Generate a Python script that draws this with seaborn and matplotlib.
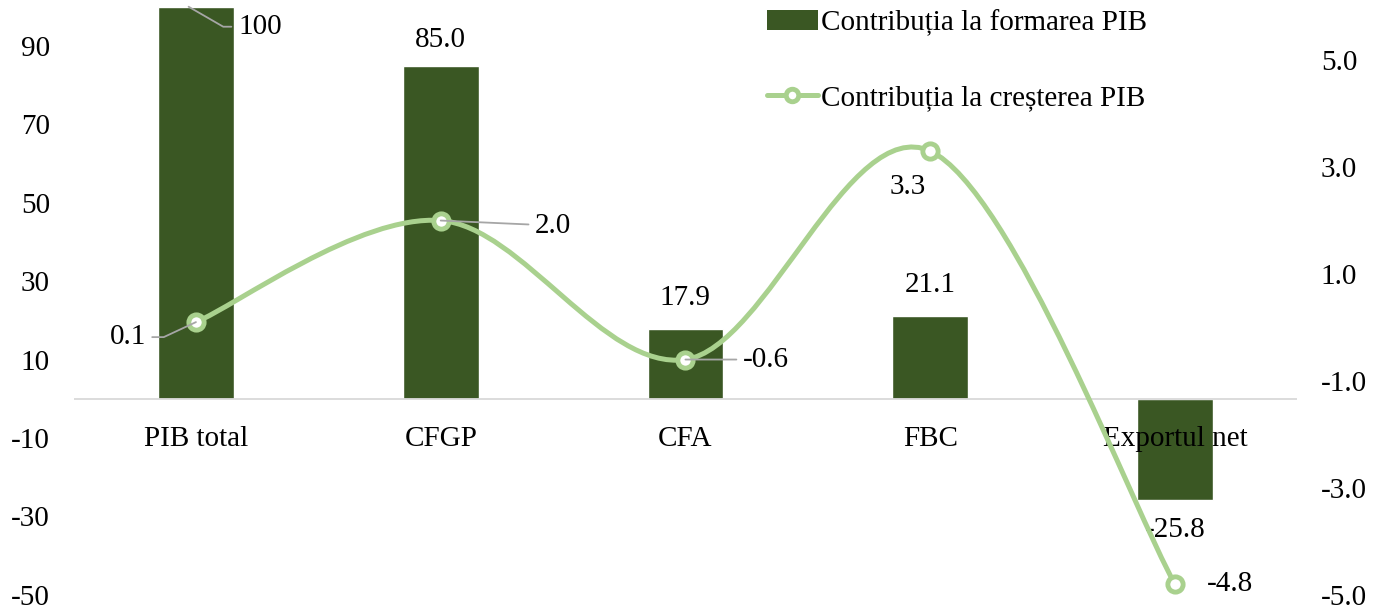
import numpy as np
import pandas as pd
import matplotlib
matplotlib.use('Agg')
import matplotlib.pyplot as plt
from matplotlib.path import Path
from matplotlib.patches import PathPatch, Patch
from matplotlib.lines import Line2D
import seaborn as sns

# Data
categories = ['PIB total', 'CFGP', 'CFA', 'FBC', 'Exportul net']
formare = [100, 85.0, 17.9, 21.1, -25.8]
formare_labels = ['100', '85.0', '17.9', '21.1', '-25.8']
crestere = [0.1, 2.0, -0.6, 3.3, -4.8]
crestere_labels = ['0.1', '2.0', '-0.6', '3.3', '-4.8']

bar_color = '#3A5723'
line_color = '#A9D18E'
leader_color = '#A6A6A6'

sns.set_style('white')
plt.rcParams['font.family'] = ['Liberation Serif', 'DejaVu Serif']
plt.rcParams['axes.unicode_minus'] = False
plt.rcParams['text.color'] = 'black'
plt.rcParams['ytick.color'] = 'black'
plt.rcParams['xtick.color'] = 'black'
fs = 21

fig = plt.figure(figsize=(13.75, 6.1), dpi=100)
ax = fig.add_axes([0.0535, 0.025, 0.89, 0.964])

df = pd.DataFrame({'cat': categories, 'val': formare})
sns.barplot(data=df, x='cat', y='val', color=bar_color, saturation=1, width=0.31, ax=ax)
ax.set_xlim(-0.5, 4.5)
ax.set_ylim(-50, 100)
ax.set_yticks(range(-50, 100, 20))
ax.set_xlabel('')
ax.set_ylabel('')
ax.set_xticks([])
ax.axhline(0, color='#D9D9D9', lw=1.3, zorder=1)
ax.tick_params(axis='y', length=0, pad=17, labelsize=fs)
for s in ax.spines.values():
    s.set_visible(False)

# category labels sit just under the zero line
for i, c in enumerate(categories):
    ax.annotate(c, (i, 0), xytext=(0, -40), textcoords='offset pixels',
                ha='center', va='center', fontsize=fs, zorder=5)

# bar value labels
bar_offsets = [None, (0, 26), (0, 31), (0, 31), (0, -30)]
for i, (v, lab) in enumerate(zip(formare, formare_labels)):
    if i == 0:
        ax.annotate(lab, (i - 0.03, v), xytext=(72, -20), textcoords='offset pixels',
                    ha='center', va='center', fontsize=fs,
                    arrowprops=dict(arrowstyle='-', color=leader_color, lw=1.3,
                                    connectionstyle='angle,angleA=0,angleB=-30,rad=0',
                                    shrinkA=3, shrinkB=0))
    else:
        ax.annotate(lab, (i, v), xytext=bar_offsets[i], textcoords='offset pixels',
                    ha='center', va='center', fontsize=fs)

# secondary axis with smoothed line
ax2 = ax.twinx()
ax2.set_ylim(-5, 6)
ax2.set_yticks(np.arange(-5, 6, 2))
ax2.set_yticklabels([f'{t:.1f}' for t in np.arange(-5, 6, 2)])
ax2.tick_params(axis='y', length=0, pad=17, labelsize=fs)
for s in ax2.spines.values():
    s.set_visible(False)

pts = np.column_stack([np.arange(len(crestere)), crestere]).astype(float)
ext = np.vstack([pts[0], pts, pts[-1]])
verts = [tuple(pts[0])]
codes = [Path.MOVETO]
for i in range(len(pts) - 1):
    p0, p1, p2, p3 = ext[i], ext[i + 1], ext[i + 2], ext[i + 3]
    c1 = p1 + (p2 - p0) / 6
    c2 = p2 - (p3 - p1) / 6
    verts += [tuple(c1), tuple(c2), tuple(p2)]
    codes += [Path.CURVE4] * 3
ax2.add_patch(PathPatch(Path(verts, codes), fill=False, edgecolor=line_color,
                        lw=3.6, capstyle='round', zorder=3))
ax2.plot(pts[:, 0], pts[:, 1], 'o', ms=11, mfc='white', mec=line_color, mew=3.5,
         linestyle='none', zorder=4)

line_offsets = [(-68, -15), (112, -5), (80, 0), (-22, -36), (55, 0)]
leaders = [True, True, True, False, False]
for i, (v, lab) in enumerate(zip(crestere, crestere_labels)):
    kw = {}
    if leaders[i]:
        kw['arrowprops'] = dict(arrowstyle='-', color=leader_color, lw=1.3,
                                shrinkA=2, shrinkB=0,
                                connectionstyle='angle,angleA=0,angleB=25,rad=0' if i == 0 else 'arc3')
    ax2.annotate(lab, (i, v), xytext=line_offsets[i], textcoords='offset pixels',
                 ha='center', va='center', fontsize=fs, zorder=5, **kw)

handles = [Patch(facecolor=bar_color, edgecolor='none'),
           Line2D([0], [0], color=line_color, lw=3.6, marker='o', ms=9,
                  mfc='white', mec=line_color, mew=3.5)]
ax2.legend(handles, ['Contribuția la formarea PIB', 'Contribuția la creșterea PIB'],
           loc='upper left', bbox_to_anchor=(0.545, 1.04), frameon=False,
           fontsize=fs, handlelength=1.75, handletextpad=0.1, labelspacing=1.65)

fig.savefig('out.png', dpi=100)
